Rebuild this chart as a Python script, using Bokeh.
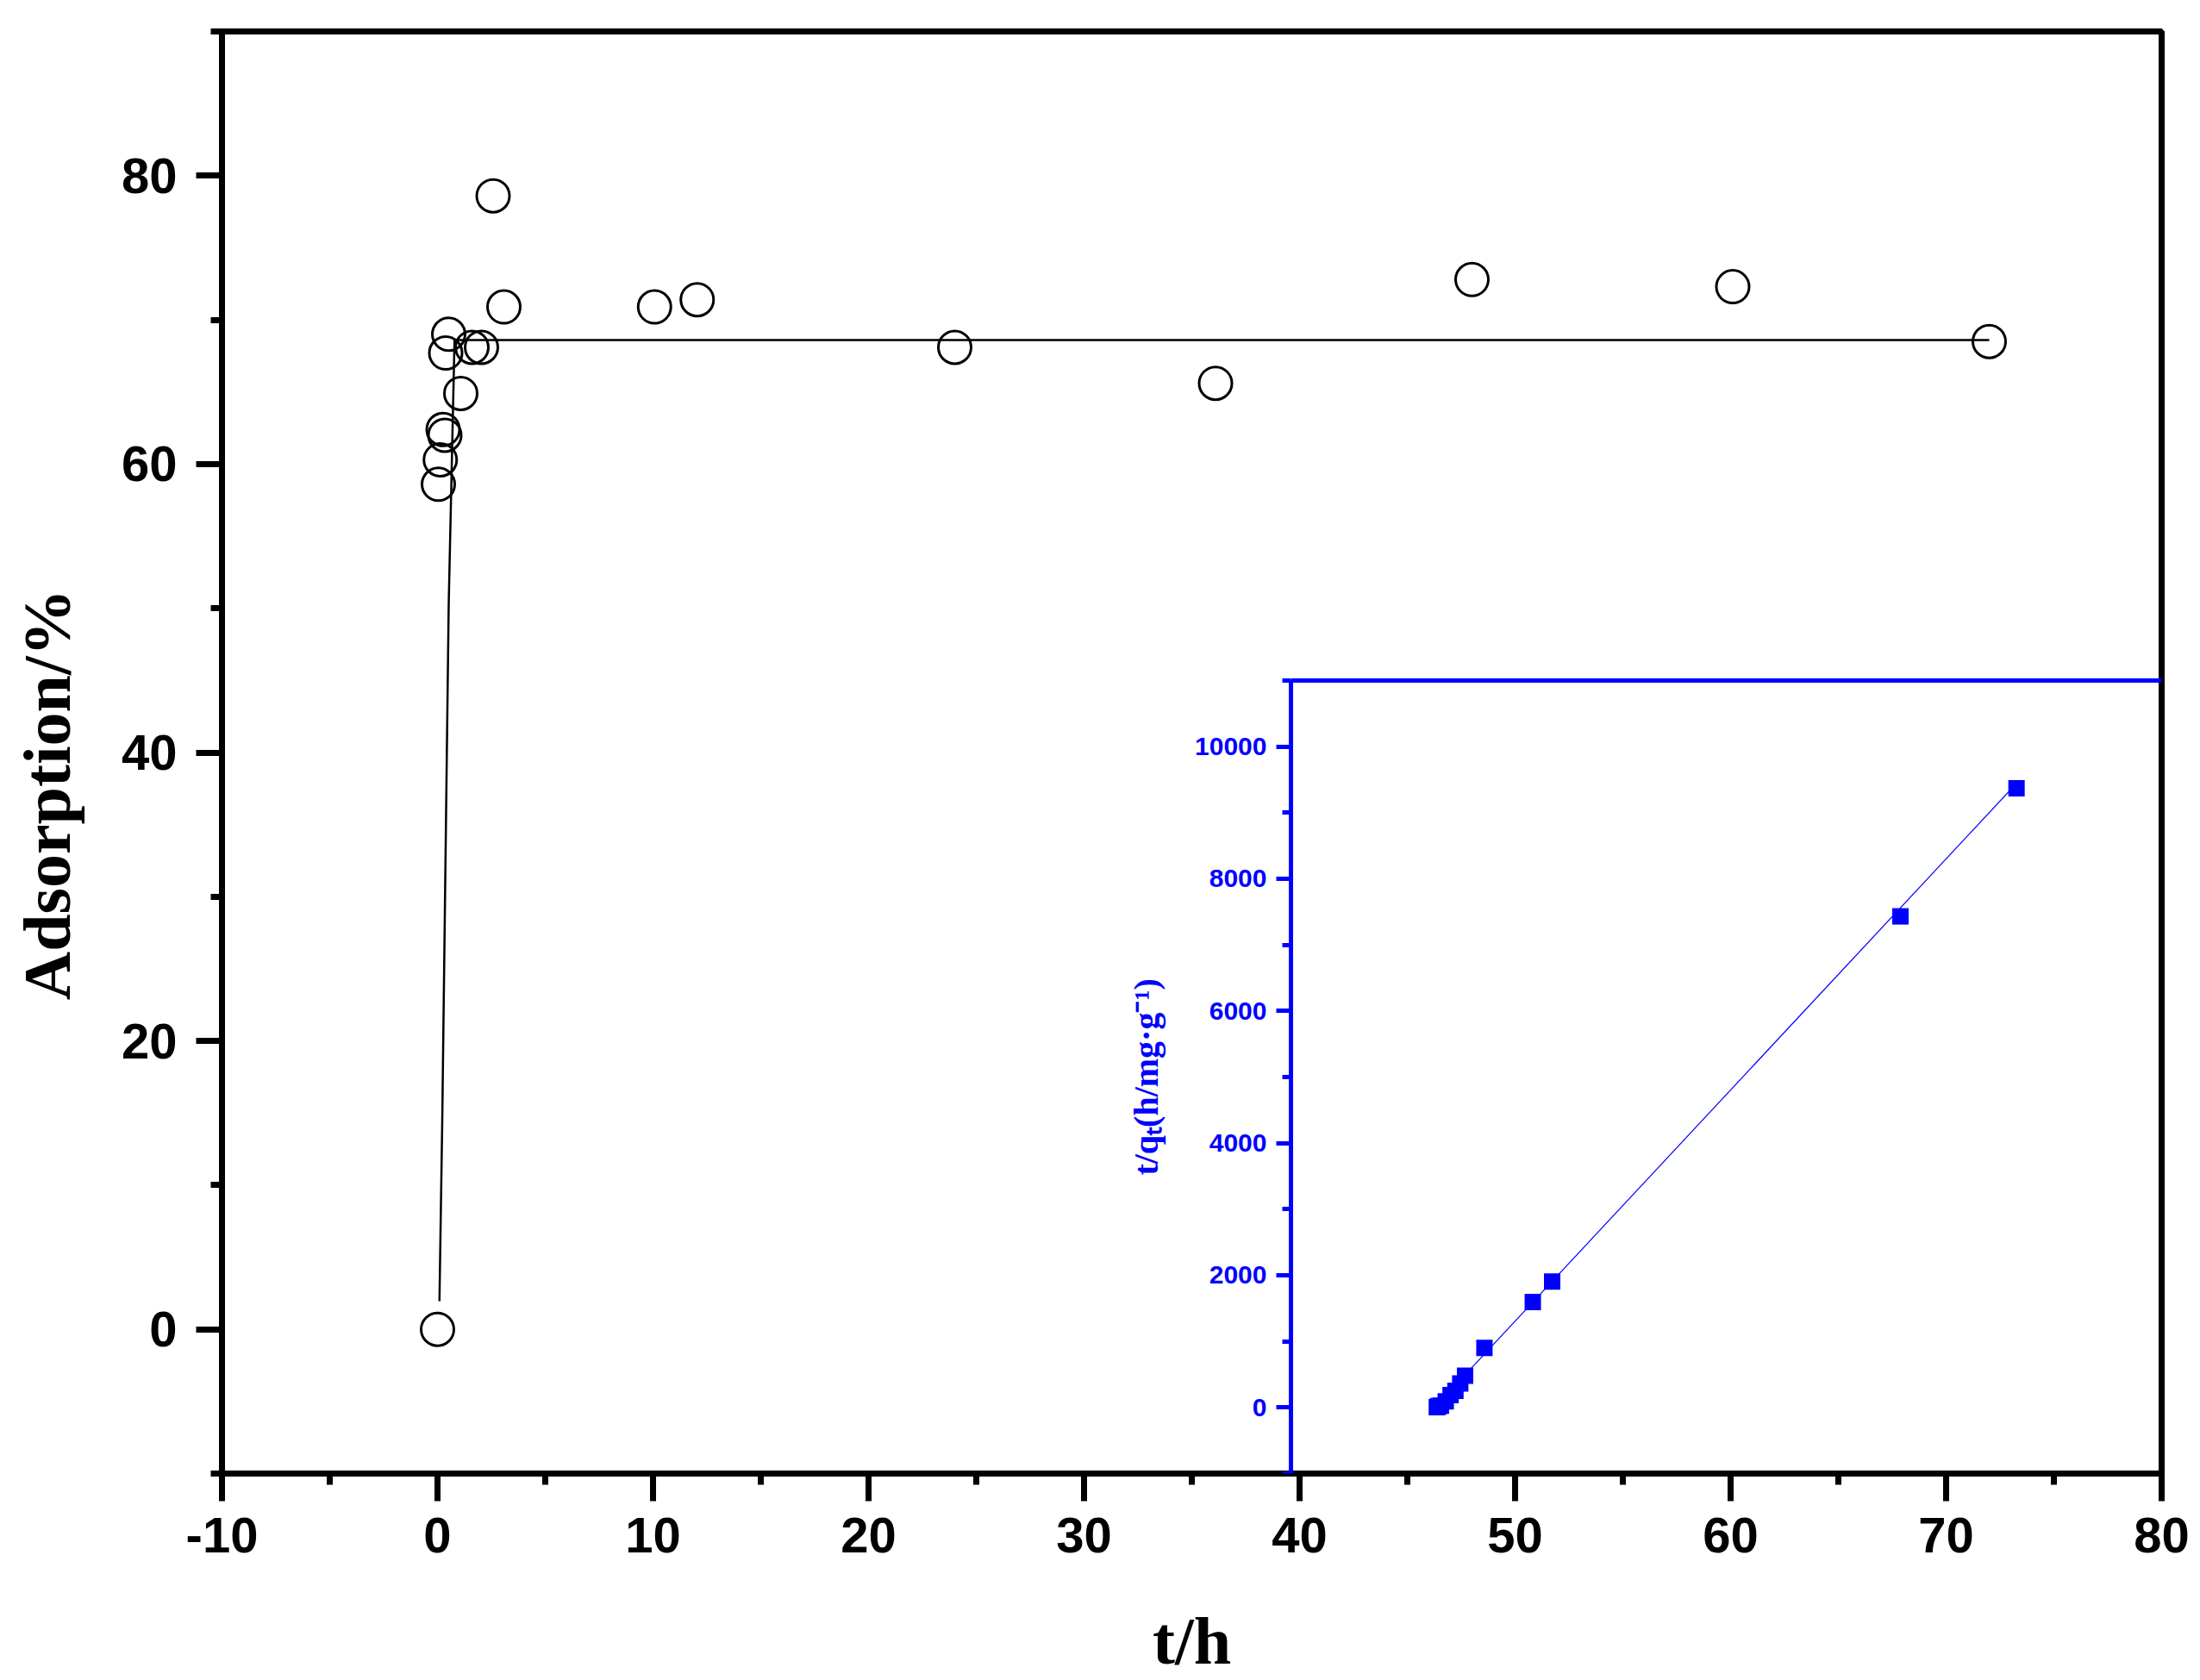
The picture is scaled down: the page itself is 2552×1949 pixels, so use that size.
from bokeh.plotting import figure
from bokeh.models import Range1d, LinearAxis, FixedTicker, Label
from bokeh.embed import file_html
from bokeh.resources import INLINE
from math import pi

# ---------------- data ----------------
t_h = [0.0, 0.04, 0.13, 0.26, 0.34, 0.38, 0.52, 1.08, 1.6, 2.04, 2.58, 3.08,
       10.07, 12.05, 24.0, 36.1, 48.0, 60.1, 72.0]
adsorption_pct = [0.0, 58.6, 60.3, 62.4, 62.0, 67.7, 69.0, 64.9, 68.1, 68.1, 78.6, 70.9,
                  70.9, 71.4, 68.1, 65.6, 72.8, 72.3, 68.5]

fit_t_h = [0.09, 0.22, 0.52, 0.79, 72.0]
fit_adsorption_pct = [1.95, 14.4, 50.3, 68.6, 68.6]

inset_t_h = [0.08, 0.17, 0.25, 0.5, 1.0, 1.5, 2.0, 2.5, 3.0, 5.0, 10.0, 12.0, 48.0, 60.0]
inset_t_over_qt = [4, 10, 20, 26, 92, 187, 252, 362, 480, 902, 1595, 1905, 7430, 9367]

inset_fit_t_h = [0.0, 60.0]
inset_fit_t_over_qt = [23, 9443]

x_major_ticks = [-10, 0, 10, 20, 30, 40, 50, 60, 70, 80]
x_tick_labels = ["-10", "0", "10", "20", "30", "40", "50", "60", "70", "80"]
x_minor_ticks = [-5, 5, 15, 25, 35, 45, 55, 65, 75]
y_major_ticks = [0, 20, 40, 60, 80]
y_tick_labels = ["0", "20", "40", "60", "80"]
y_minor_ticks = [-10, 10, 30, 50, 70, 90]
inset_y_major_ticks = [0, 2000, 4000, 6000, 8000, 10000]
inset_y_tick_labels = ["0", "2000", "4000", "6000", "8000", "10000"]
inset_y_minor_ticks = [-1000, 1000, 3000, 5000, 7000, 9000, 11000]

x_title = "t/h"
y_title = "Adsorption/%"
inset_y_title = "t/q\u209c(h/mg\u00b7g\u207b\u00b9)"

# ---------------- layout ----------------
X_RANGE = (-10, 80)
Y_RANGE = (-10, 90)
INSET_X_RANGE = (-15, 75)
INSET_Y_RANGE = (-1000, 11000)
INSET_BOX_X = (39.6, 80)   # inset frame, in main x units
INSET_BOX_Y = (-10, 45)    # inset frame, in main y units
Y_TITLE_PAD = "\u00a0" * 5  # nudges the centred y title down, as in the original

BLUE = "#0000FF"


def stretched(inner, box, outer):
    k = (inner[1] - inner[0]) / (box[1] - box[0])
    return Range1d(inner[0] - (box[0] - outer[0]) * k, inner[1] + (outer[1] - box[1]) * k)


p = figure(width=2550, height=1949,
           x_range=Range1d(*X_RANGE), y_range=Range1d(*Y_RANGE),
           output_backend="svg", toolbar_location=None,
           min_border_left=257, min_border_right=43,
           min_border_top=36, min_border_bottom=240,
           background_fill_color="white", border_fill_color="white")
p.xgrid.visible = False
p.ygrid.visible = False
p.outline_line_color = "black"
p.outline_line_width = 7

xa = p.xaxis[0]
xa.ticker = FixedTicker(ticks=x_major_ticks, minor_ticks=x_minor_ticks)
xa.major_label_overrides = dict(zip(x_major_ticks, x_tick_labels))
ya = p.yaxis[0]
ya.ticker = FixedTicker(ticks=y_major_ticks, minor_ticks=y_minor_ticks)
ya.major_label_overrides = dict(zip(y_major_ticks, y_tick_labels))
for ax in (xa, ya):
    ax.axis_line_width = 7
    ax.axis_line_color = "black"
    ax.major_tick_line_width = 7
    ax.minor_tick_line_width = 7
    ax.major_tick_line_color = "black"
    ax.minor_tick_line_color = "black"
    ax.major_tick_in = 0
    ax.minor_tick_in = 0
    ax.minor_tick_out = 13
    ax.major_label_text_font = "Liberation Sans"
    ax.major_label_text_font_style = "bold"
    ax.major_label_text_font_size = "58px"
    ax.major_label_text_color = "black"
    ax.axis_label_text_font = "Liberation Serif"
    ax.axis_label_text_font_style = "bold"
    ax.axis_label_text_font_size = "78px"
    ax.axis_label_text_color = "black"
xa.major_tick_out = 32
xa.major_label_standoff = 19
xa.axis_label = x_title
xa.axis_label_standoff = 56
ya.major_tick_out = 30
ya.major_label_standoff = 22
ya.axis_label = y_title + Y_TITLE_PAD
ya.axis_label_standoff = 40

# inset ranges mapped onto the whole main frame
p.extra_x_ranges = {"inset_x": stretched(INSET_X_RANGE, INSET_BOX_X, X_RANGE)}
p.extra_y_ranges = {"inset_y": stretched(INSET_Y_RANGE, INSET_BOX_Y, Y_RANGE)}

iy = LinearAxis(x_range_name="inset_x", y_range_name="inset_y",
                fixed_location=INSET_X_RANGE[0], bounds=INSET_Y_RANGE,
                ticker=FixedTicker(ticks=inset_y_major_ticks, minor_ticks=inset_y_minor_ticks))
iy.major_label_overrides = dict(zip(inset_y_major_ticks, inset_y_tick_labels))
iy.axis_line_color = BLUE
iy.axis_line_width = 5
iy.major_tick_line_color = BLUE
iy.minor_tick_line_color = BLUE
iy.major_tick_line_width = 5
iy.minor_tick_line_width = 5
iy.major_tick_in = 0
iy.minor_tick_in = 0
iy.major_tick_out = 17
iy.minor_tick_out = 10
iy.major_label_standoff = 11
iy.major_label_text_font = "Liberation Sans"
iy.major_label_text_font_style = "bold"
iy.major_label_text_font_size = "30px"
iy.major_label_text_color = BLUE
p.add_layout(iy, "left")

itop = LinearAxis(x_range_name="inset_x", y_range_name="inset_y",
                  fixed_location=INSET_Y_RANGE[1], bounds=INSET_X_RANGE,
                  ticker=FixedTicker(ticks=[], minor_ticks=[]))
itop.axis_line_color = BLUE
itop.axis_line_width = 5
itop.major_tick_line_color = None
itop.minor_tick_line_color = None
itop.major_label_text_font_size = "0px"
p.add_layout(itop, "above")

# main data
p.line(fit_t_h, fit_adsorption_pct, line_color="black", line_width=2.5)
p.scatter(t_h, adsorption_pct, marker="circle", size=38,
          fill_color=None, line_color="black", line_width=3)

# inset data
p.line(inset_fit_t_h, inset_fit_t_over_qt, x_range_name="inset_x", y_range_name="inset_y",
       line_color=BLUE, line_width=1.2)
p.scatter(inset_t_h, inset_t_over_qt, marker="square", size=19,
          fill_color=BLUE, line_color=None, x_range_name="inset_x", y_range_name="inset_y")

# inset y title (inside the main frame)
p.add_layout(Label(x=-30, y=5000, x_range_name="inset_x", y_range_name="inset_y",
                   text=inset_y_title, angle=pi / 2, text_align="center",
                   text_baseline="alphabetic", text_font="Liberation Serif",
                   text_font_style="bold", text_font_size="40px", text_color=BLUE))

with open("out.html", "w", encoding="utf-8") as f:
    f.write(file_html(p, INLINE))
